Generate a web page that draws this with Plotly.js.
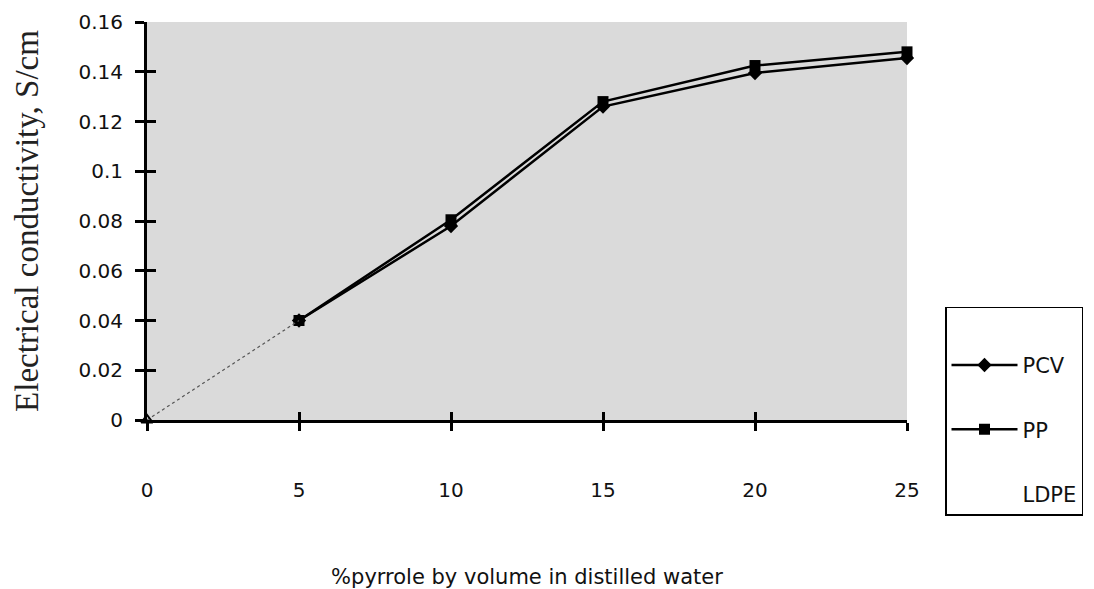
<!DOCTYPE html>
<html>
<head>
<meta charset="utf-8">
<script src="https://cdn.plot.ly/plotly-3.0.1.min.js"></script>
<style>html,body{margin:0;padding:0;background:#fff;}#chart{width:1094px;height:589px;}</style>
</head>
<body>
<div id="chart"></div>
<script>
const pyrrole = [0, 5, 10, 15, 20, 25];
const pcv = [0, 0.040, 0.078, 0.126, 0.1395, 0.1455];
const pp = [0, 0.040, 0.0805, 0.128, 0.1425, 0.148];
const ldpe = [null, null, null, null, null, null];
const yTickVals = [0, 0.02, 0.04, 0.06, 0.08, 0.1, 0.12, 0.14, 0.16];
const yTickText = ['0', '0.02', '0.04', '0.06', '0.08', '0.1', '0.12', '0.14', '0.16'];
const xTickVals = [0, 5, 10, 15, 20, 25];

const traces = [
  {x: pyrrole.slice(1), y: pcv.slice(1), name: 'PCV', legendgroup: 'a', mode: 'lines+markers', line: {color: '#000', width: 2.5},
   marker: {symbol: 'diamond', size: 11, color: '#000'}, cliponaxis: false},
  {x: pyrrole.slice(1), y: pp.slice(1), name: 'PP', legendgroup: 'b', mode: 'lines+markers', line: {color: '#000', width: 2.5},
   marker: {symbol: 'square', size: 11, color: '#000'}, cliponaxis: false},
  {x: pyrrole, y: ldpe, name: 'LDPE', legendgroup: 'c', mode: 'lines', line: {color: 'rgba(0,0,0,0)', width: 0}},
  {x: pyrrole.slice(0, 2), y: pcv.slice(0, 2), mode: 'lines', showlegend: false, hoverinfo: 'skip',
   line: {color: '#555', width: 1.2, dash: 'dot'}},
  {x: pyrrole.slice(0, 1), y: pcv.slice(0, 1), mode: 'markers', showlegend: false, hoverinfo: 'skip', cliponaxis: false,
   marker: {symbol: 'triangle-up-open', size: 10, color: '#000', line: {width: 2, color: '#000'}}}
];

const tickFont = {family: 'DejaVu Sans, sans-serif', size: 20, color: '#111'};
const layout = {
  width: 1094, height: 589,
  margin: {l: 147, r: 187, t: 22, b: 169, autoexpand: false},
  paper_bgcolor: '#fff',
  plot_bgcolor: '#dadada',
  showlegend: true,
  legend: {x: 1.05, xanchor: 'left', y: 0.284, yanchor: 'top',
    bordercolor: '#000', borderwidth: 1.5, bgcolor: '#fff',
    font: {family: 'DejaVu Sans, sans-serif', size: 21, color: '#111'},
    title: {text: ' ', font: {size: 28}},
    itemwidth: 66,
    tracegroupgap: 34},
  xaxis: {range: [0, 25], tickvals: xTickVals, ticktext: xTickVals.map(String),
    showgrid: false, zeroline: false, showline: true, linecolor: '#000', linewidth: 3,
    ticks: 'outside', ticklen: 8, tickwidth: 3, tickcolor: '#000',
    ticklabelstandoff: 42, tickfont: tickFont,
    title: {text: '%pyrrole by volume in distilled water', standoff: 69,
      font: {family: 'DejaVu Sans, sans-serif', size: 21, color: '#111'}}},
  xaxis2: {overlaying: 'x', matches: 'x', anchor: 'y', side: 'bottom', tickvals: xTickVals,
    showticklabels: false, showgrid: false, zeroline: false, showline: false,
    ticks: 'inside', ticklen: 8, tickwidth: 3, tickcolor: '#000'},
  yaxis: {range: [0, 0.16], tickvals: yTickVals, ticktext: yTickText,
    showgrid: false, zeroline: false, showline: true, linecolor: '#000', linewidth: 3,
    ticks: 'outside', ticklen: 9, tickwidth: 3, tickcolor: '#000', tickfont: tickFont,
    ticklabelstandoff: 8,
    title: {text: 'Electrical conductivity, S/cm', standoff: 30,
      font: {family: 'Liberation Serif, Times New Roman, serif', size: 33, color: '#222'}}},
  yaxis2: {overlaying: 'y', matches: 'y', anchor: 'x', side: 'left', tickvals: yTickVals,
    showticklabels: false, showgrid: false, zeroline: false, showline: false,
    ticks: 'inside', ticklen: 9, tickwidth: 3, tickcolor: '#000'}
};
const dummy = {x: pyrrole, y: ldpe, xaxis: 'x2', yaxis: 'y2', showlegend: false, hoverinfo: 'skip', mode: 'lines'};
Plotly.newPlot('chart', traces.concat([dummy]), layout, {displayModeBar: false});
</script>
</body>
</html>
